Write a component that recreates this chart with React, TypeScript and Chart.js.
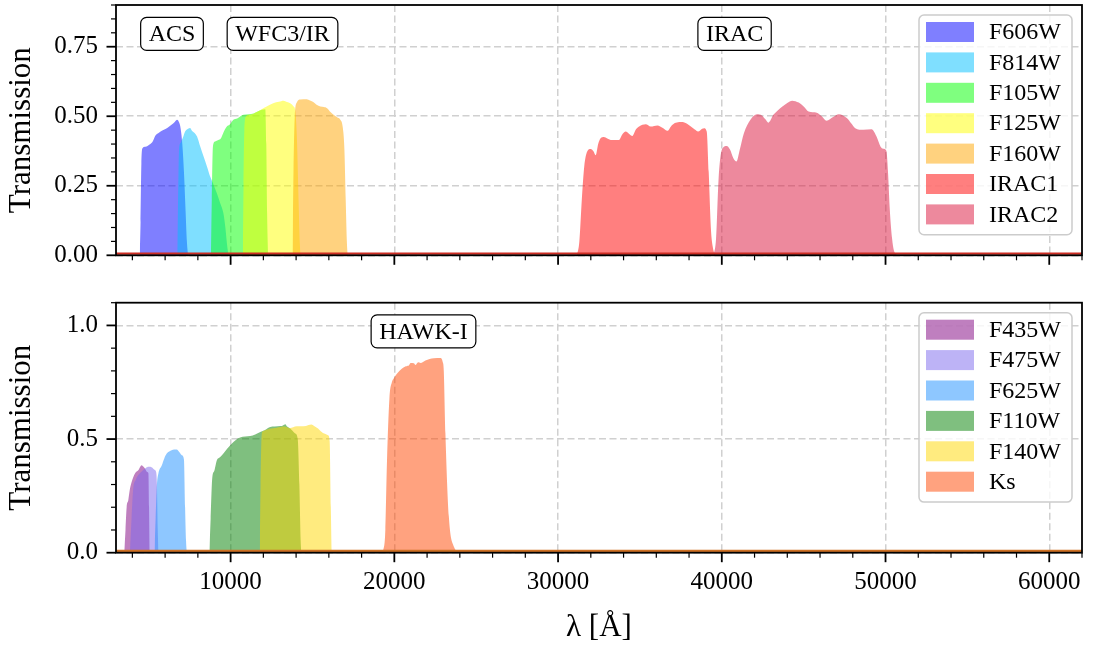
import React, { useEffect, useRef } from 'react';
import { Chart, registerables } from 'chart.js';

Chart.register(...registerables);

type Pt = [number, number];

// ---------------- top panel: HST ACS / WFC3-IR / Spitzer IRAC ----------------
const F606W: Pt[] = [[4450,0],[4500,0.12],[4550,0.33],[4620,0.385],[4800,0.39],[5050,0.398],[5250,0.41],[5400,0.43],[5600,0.44],[5800,0.448],[6050,0.455],[6250,0.463],[6450,0.472],[6600,0.48],[6730,0.487],[6850,0.478],[6950,0.455],[7050,0.4],[7150,0.3],[7250,0.16],[7330,0.05],[7400,0]];
const F814W: Pt[] = [[6740,0],[6790,0.2],[6850,0.38],[6950,0.405],[7100,0.425],[7220,0.445],[7400,0.455],[7520,0.458],[7650,0.447],[7800,0.44],[7950,0.427],[8150,0.39],[8350,0.355],[8550,0.32],[8750,0.283],[8950,0.255],[9160,0.223],[9350,0.19],[9560,0.151],[9680,0.1],[9780,0.04],[9870,0]];
const F105W: Pt[] = [[8800,0],[8850,0.2],[8920,0.39],[9050,0.409],[9250,0.415],[9400,0.42],[9550,0.44],[9770,0.463],[9950,0.47],[10170,0.487],[10400,0.492],[10600,0.5],[10790,0.505],[11100,0.507],[11400,0.51],[11650,0.517],[11900,0.523],[12120,0.525],[12180,0.4],[12230,0.15],[12290,0]];
const F125W: Pt[] = [[10750,0],[10790,0.25],[10840,0.45],[10950,0.5],[11200,0.505],[11600,0.515],[11900,0.525],[12200,0.535],[12600,0.547],[12950,0.552],[13230,0.556],[13450,0.551],[13640,0.547],[13850,0.535],[13950,0.52],[14050,0.42],[14150,0.2],[14230,0.04],[14280,0]];
const F160W: Pt[] = [[13780,0],[13840,0.3],[13920,0.5],[14050,0.55],[14250,0.56],[14650,0.561],[14850,0.557],[15070,0.55],[15250,0.541],[15480,0.535],[15700,0.533],[15890,0.529],[16100,0.515],[16290,0.505],[16500,0.496],[16700,0.487],[16850,0.46],[16950,0.38],[17030,0.2],[17100,0.05],[17160,0]];
const IRAC1: Pt[] = [[31150,0],[31300,0.05],[31450,0.2],[31600,0.32],[31780,0.373],[31990,0.382],[32150,0.375],[32300,0.36],[32450,0.4],[32600,0.421],[32800,0.425],[33210,0.415],[33720,0.415],[33950,0.437],[34130,0.445],[34330,0.437],[34540,0.429],[34750,0.452],[34950,0.463],[35350,0.471],[35660,0.463],[36070,0.467],[36400,0.458],[36680,0.448],[36950,0.468],[37190,0.477],[37600,0.479],[37900,0.472],[38110,0.463],[38350,0.452],[38550,0.445],[38800,0.455],[38920,0.457],[39080,0.445],[39200,0.3],[39330,0.1],[39450,0.03],[39600,0]];
const IRAC2: Pt[] = [[39500,0],[39650,0.06],[39800,0.27],[40000,0.379],[40300,0.393],[40500,0.38],[40700,0.35],[40900,0.337],[41100,0.38],[41350,0.439],[41750,0.487],[42150,0.507],[42450,0.503],[42650,0.49],[42850,0.477],[43150,0.505],[43400,0.52],[43700,0.535],[44000,0.548],[44300,0.556],[44700,0.549],[45000,0.535],[45300,0.517],[45800,0.513],[46100,0.5],[46400,0.484],[46800,0.497],[47150,0.507],[47400,0.503],[47650,0.493],[47900,0.475],[48150,0.457],[48650,0.451],[49150,0.453],[49450,0.427],[49700,0.39],[49850,0.383],[50050,0.376],[50150,0.3],[50250,0.175],[50400,0.06],[50500,0.02],[50700,0]];

const TOP_LABELS = ['F606W', 'F814W', 'F105W', 'F125W', 'F160W', 'IRAC1', 'IRAC2'];
const TOP_CURVES: Pt[][] = [F606W, F814W, F105W, F125W, F160W, IRAC1, IRAC2];
const TOP_COLORS = ['rgba(0,0,255,0.5)', 'rgba(0,191,255,0.5)', 'rgba(0,255,0,0.5)', 'rgba(255,255,0,0.5)', 'rgba(255,165,0,0.5)', 'rgba(255,0,0,0.5)', 'rgba(220,20,60,0.5)'];
const TOP_Y_TICKS = [0, 0.25, 0.5, 0.75];
const TOP_Y_MAX = 0.9;
const TOP_Y_MINOR = 0.05;
const TOP_NOTES = [
  { text: 'ACS', x: 6420, y: 0.796 },
  { text: 'WFC3/IR', x: 13170, y: 0.796 },
  { text: 'IRAC', x: 40780, y: 0.796 },
];

// ---------------- bottom panel: HST ACS / WFC3-IR / VLT HAWK-I ----------------
const F435W: Pt[] = [[3500,0],[3580,0.1],[3650,0.2],[3750,0.231],[3850,0.28],[3960,0.312],[4160,0.349],[4360,0.363],[4570,0.385],[4650,0.38],[4770,0.37],[4900,0.355],[4980,0.349],[5020,0.2],[5060,0]];
const F475W: Pt[] = [[3850,0],[3950,0.15],[4050,0.28],[4200,0.32],[4400,0.345],[4600,0.36],[4800,0.372],[5000,0.378],[5200,0.375],[5350,0.365],[5450,0.355],[5500,0.3],[5550,0.1],[5600,0]];
const F625W: Pt[] = [[5350,0],[5420,0.15],[5500,0.3],[5590,0.349],[5800,0.385],[5950,0.415],[6100,0.436],[6400,0.451],[6700,0.454],[6900,0.44],[7020,0.429],[7150,0.41],[7220,0.2],[7280,0.05],[7330,0]];
const F110W: Pt[] = [[8700,0],[8780,0.15],[8880,0.33],[9000,0.36],[9160,0.407],[9350,0.42],[9560,0.436],[9800,0.458],[10080,0.48],[10300,0.495],[10580,0.507],[11200,0.513],[11500,0.52],[11810,0.531],[12100,0.54],[12420,0.553],[12700,0.555],[13030,0.557],[13200,0.56],[13340,0.565],[13450,0.555],[13640,0.546],[13950,0.524],[14100,0.5],[14200,0.3],[14280,0.05],[14320,0]];
const F140W: Pt[] = [[11780,0],[11830,0.3],[11900,0.52],[12000,0.535],[12400,0.545],[12800,0.55],[13300,0.555],[13600,0.548],[14040,0.556],[14300,0.556],[14600,0.558],[14930,0.564],[15100,0.558],[15340,0.546],[15640,0.527],[15950,0.517],[16050,0.49],[16120,0.2],[16180,0]];
const KS: Pt[] = [[19300,0],[19450,0.1],[19550,0.4],[19700,0.68],[19850,0.75],[19960,0.766],[20170,0.788],[20470,0.81],[20700,0.82],[20880,0.824],[21000,0.835],[21190,0.834],[21300,0.826],[21450,0.838],[21600,0.835],[21900,0.846],[22410,0.856],[22820,0.857],[22950,0.84],[23020,0.8],[23120,0.524],[23330,0.158],[23640,0.026],[24000,0]];

const BOTTOM_LABELS = ['F435W', 'F475W', 'F625W', 'F110W', 'F140W', 'Ks'];
const BOTTOM_CURVES: Pt[][] = [F435W, F475W, F625W, F110W, F140W, KS];
const BOTTOM_COLORS = ['rgba(128,0,128,0.5)', 'rgba(123,104,238,0.5)', 'rgba(30,144,255,0.5)', 'rgba(0,128,0,0.5)', 'rgba(255,215,0,0.5)', 'rgba(255,69,0,0.5)'];
const BOTTOM_Y_TICKS = [0, 0.5, 1.0];
const BOTTOM_Y_MAX = 1.1;
const BOTTOM_Y_MINOR = 0.1;
const BOTTOM_NOTES = [{ text: 'HAWK-I', x: 21780, y: 0.974 }];

// ---------------- shared axis ----------------
const X_MIN = 3000;
const X_MAX = 62000;
const X_TICKS = [10000, 20000, 30000, 40000, 50000, 60000];
const X_MINOR = 2000;

const FONT = "'Liberation Serif', 'Times New Roman', serif";
const WIDTH = 1096;

interface Panel {
  labels: string[];
  curves: Pt[][];
  colors: string[];
  yTicks: number[];
  yMax: number;
  yMinor: number;
  yDecimals: number;
  notes: { text: string; x: number; y: number }[];
  zeroColor: string;
  showX: boolean;
  height: number;
  padTop: number;
  xAxisH: number;
}

function decorPlugin(p: Panel) {
  return {
    id: 'panelDecor',
    afterDraw(chart: any) {
      const { ctx, chartArea: a } = chart;
      const xs = chart.scales.x;
      const ys = chart.scales.y;
      ctx.save();

      // zero level line
      const y0 = ys.getPixelForValue(0);
      ctx.strokeStyle = p.zeroColor;
      ctx.lineWidth = 2.4;
      ctx.beginPath();
      ctx.moveTo(a.left, y0 - 1.7);
      ctx.lineTo(a.right, y0 - 1.7);
      ctx.stroke();

      // frame
      ctx.strokeStyle = '#000';
      ctx.lineWidth = 1.8;
      ctx.strokeRect(a.left, a.top, a.right - a.left, a.bottom - a.top);

      // x ticks (major + minor), outward
      const start = Math.ceil(X_MIN / X_MINOR) * X_MINOR;
      for (let v = start; v <= X_MAX; v += X_MINOR) {
        const major = X_TICKS.includes(v);
        const px = xs.getPixelForValue(v);
        ctx.lineWidth = major ? 1.8 : 1.2;
        ctx.beginPath();
        ctx.moveTo(px, a.bottom);
        ctx.lineTo(px, a.bottom + (major ? 9.5 : 5));
        ctx.stroke();
      }
      // y ticks
      for (let i = 0; i * p.yMinor <= p.yMax + 1e-9; i++) {
        const v = i * p.yMinor;
        const major = p.yTicks.some((t) => Math.abs(t - v) < 1e-9);
        const py = ys.getPixelForValue(v);
        ctx.lineWidth = major ? 1.8 : 1.2;
        ctx.beginPath();
        ctx.moveTo(a.left, py);
        ctx.lineTo(a.left - (major ? 9.5 : 5), py);
        ctx.stroke();
      }

      // text boxes
      ctx.font = `24px ${FONT}`;
      ctx.textAlign = 'center';
      ctx.textBaseline = 'middle';
      for (const n of p.notes) {
        const cx = xs.getPixelForValue(n.x);
        const cy = ys.getPixelForValue(n.y);
        const tw = ctx.measureText(n.text).width;
        const w = tw + 16;
        const h = 33;
        ctx.beginPath();
        (ctx as any).roundRect(cx - w / 2, cy - h / 2, w, h, 6);
        ctx.fillStyle = '#fff';
        ctx.fill();
        ctx.lineWidth = 1.2;
        ctx.strokeStyle = '#000';
        ctx.stroke();
        ctx.fillStyle = '#000';
        ctx.fillText(n.text, cx, cy + 1);
      }

      // legend
      const pitch = 30.4;
      const bw = 153;
      const bx = a.right - 10 - bw;
      const by = a.top + 10;
      const bh = 7 + p.labels.length * pitch;
      ctx.beginPath();
      (ctx as any).roundRect(bx, by, bw, bh, 5);
      ctx.fillStyle = 'rgba(255,255,255,0.8)';
      ctx.fill();
      ctx.lineWidth = 1.5;
      ctx.strokeStyle = '#cccccc';
      ctx.stroke();
      ctx.textAlign = 'left';
      ctx.font = `24px ${FONT}`;
      p.labels.forEach((lab, i) => {
        const sy = by + 7 + i * pitch;
        ctx.fillStyle = p.colors[i];
        ctx.fillRect(bx + 7, sy, 48, 20);
        ctx.fillStyle = '#000';
        ctx.fillText(lab, bx + 70, sy + 11);
      });

      ctx.restore();
    },
  };
}

function makeChart(canvas: HTMLCanvasElement, p: Panel) {
  const n = p.curves.length;
  const datasets = p.curves.map((c, i) => ({
    label: p.labels[i],
    data: c.map(([x, y]) => ({ x, y })),
    backgroundColor: p.colors[i],
    borderColor: 'rgba(0,0,0,0)',
    borderWidth: 0,
    pointRadius: 0,
    fill: 'origin',
    cubicInterpolationMode: 'monotone' as const,
    order: n - i,
  }));

  return new Chart(canvas, {
    type: 'line',
    data: { datasets },
    options: {
      animation: false,
      responsive: false,
      maintainAspectRatio: false,
      devicePixelRatio: 1,
      layout: { padding: { left: 0, right: 14, top: p.padTop, bottom: 0 } },
      plugins: { legend: { display: false }, tooltip: { enabled: false } },
      scales: {
        x: {
          type: 'linear',
          min: X_MIN,
          max: X_MAX,
          afterBuildTicks: (s: any) => {
            s.ticks = X_TICKS.map((v) => ({ value: v }));
          },
          afterFit: (s: any) => {
            s.height = p.xAxisH;
            s.paddingLeft = 0;
            s.paddingRight = 0;
            s.paddingTop = 0;
            s.paddingBottom = 0;
          },
          grid: { color: '#d0d0d0', lineWidth: 1.5, drawTicks: false },
          border: { display: false, dash: [7, 3.5] },
          ticks: {
            display: p.showX,
            padding: 15,
            color: '#000',
            font: { family: FONT, size: 25 },
            maxRotation: 0,
            autoSkip: false,
            callback: (v: any) => String(v),
          },
          title: {
            display: p.showX,
            text: 'λ [Å]',
            color: '#000',
            font: { family: FONT, size: 31, lineHeight: 1.2 },
            padding: { top: 0, bottom: 0 },
          },
        },
        y: {
          type: 'linear',
          min: 0,
          max: p.yMax,
          afterBuildTicks: (s: any) => {
            s.ticks = p.yTicks.map((v) => ({ value: v }));
          },
          afterFit: (s: any) => {
            s.width = 116;
            s.paddingLeft = 0;
            s.paddingRight = 0;
            s.paddingTop = 0;
            s.paddingBottom = 0;
          },
          grid: { color: '#d0d0d0', lineWidth: 1.5, drawTicks: false },
          border: { display: false, dash: [7, 3.5] },
          ticks: {
            padding: 18,
            color: '#000',
            font: { family: FONT, size: 25 },
            callback: (v: any) => Number(v).toFixed(p.yDecimals),
          },
          title: {
            display: true,
            text: 'Transmission',
            color: '#000',
            font: { family: FONT, size: 31, lineHeight: 1.2 },
            padding: { top: 3, bottom: 0 },
          },
        },
      },
    } as any,
    plugins: [decorPlugin(p)],
  });
}

const TOP_PANEL: Panel = {
  labels: TOP_LABELS,
  curves: TOP_CURVES,
  colors: TOP_COLORS,
  yTicks: TOP_Y_TICKS,
  yMax: TOP_Y_MAX,
  yMinor: TOP_Y_MINOR,
  yDecimals: 2,
  notes: TOP_NOTES,
  zeroColor: 'rgb(205,45,35)',
  showX: false,
  height: 290,
  padTop: 5,
  xAxisH: 34.7,
};

const BOTTOM_PANEL: Panel = {
  labels: BOTTOM_LABELS,
  curves: BOTTOM_CURVES,
  colors: BOTTOM_COLORS,
  yTicks: BOTTOM_Y_TICKS,
  yMax: BOTTOM_Y_MAX,
  yMinor: BOTTOM_Y_MINOR,
  yDecimals: 1,
  notes: BOTTOM_NOTES,
  zeroColor: 'rgb(205,112,35)',
  showX: true,
  height: 356,
  padTop: 12.7,
  xAxisH: 93.3,
};

export default function App() {
  const topRef = useRef<HTMLCanvasElement | null>(null);
  const botRef = useRef<HTMLCanvasElement | null>(null);

  useEffect(() => {
    const c1 = topRef.current ? makeChart(topRef.current, TOP_PANEL) : null;
    const c2 = botRef.current ? makeChart(botRef.current, BOTTOM_PANEL) : null;
    return () => {
      c1?.destroy();
      c2?.destroy();
    };
  }, []);

  return (
    <div style={{ position: 'fixed', left: 0, top: 0, width: WIDTH, height: 646, background: '#fff' }}>
      <canvas
        ref={topRef}
        width={WIDTH}
        height={TOP_PANEL.height}
        style={{ position: 'absolute', left: 0, top: 0, display: 'block' }}
      />
      <canvas
        ref={botRef}
        width={WIDTH}
        height={BOTTOM_PANEL.height}
        style={{ position: 'absolute', left: 0, top: TOP_PANEL.height, display: 'block' }}
      />
    </div>
  );
}
